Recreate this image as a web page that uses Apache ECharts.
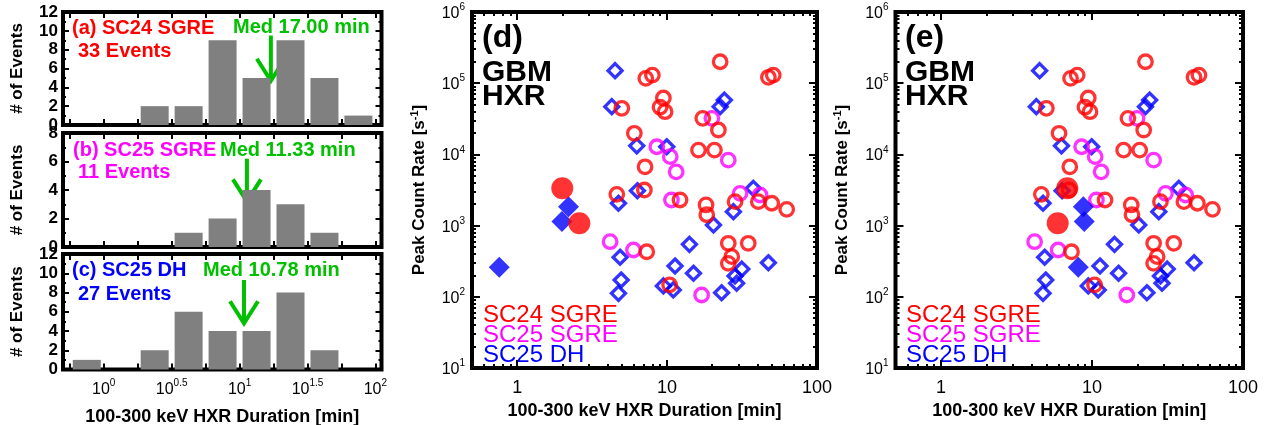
<!DOCTYPE html>
<html>
<head>
<meta charset="utf-8">
<script src="https://cdn.jsdelivr.net/npm/echarts@6/dist/echarts.min.js"></script>
<style>
  html, body { margin: 0; padding: 0; background: #fff; }
  #chart { width: 1272px; height: 425px; }
</style>
</head>
<body>
<div id="chart"></div>
<script>
const FONT = '"Liberation Sans", Arial, Helvetica, sans-serif';
const RED = '#ff0000', MAGENTA = '#ff00ff', BLUE = '#0000ff', GREEN = '#00c000', GRAY = '#808080';

// histograms: lower bin edge in log10(min), 0.25 dex bins
const binLo = [-0.25, 0, 0.25, 0.5, 0.75, 1, 1.25, 1.5, 1.75];
const binStep = 0.25;
const countsSC24 = [0, 0, 2, 2, 9, 5, 9, 5, 1];
const countsSC25 = [0, 0, 0, 1, 2, 4, 3, 1, 0];
const countsDH = [1, 0, 2, 6, 4, 4, 8, 2, 0];
const histYMax = [12, 8, 12];
const medians = [17.00, 11.33, 10.78];
const arrowTop = [9.5, 6.2, 9.3]; // arrow shaft top (counts)
const arrowTip = [4.7, 3.2, 4.8]; // arrow tip (counts)
const histTickVals = [-0.25, 0, 0.25, 0.5, 0.75, 1, 1.25, 1.5, 1.75, 2];
const histLabelVals = [0, 0.5, 1, 1.5, 2];

// scatter: open symbols (same in d and e)
const sc24Dur = [22.6, 7.21, 7.98, 47.4, 51.1, 4.99, 9.45, 8.98, 9.7, 6.05, 7.13, 17.3, 22.0, 16.2, 20.7,
  4.62, 7.06, 12.2, 18.2, 18.4, 28.4, 40.6, 49.9, 62.8, 7.32, 10.4, 25.6, 34.8, 27.0, 25.6];
const sc24Peak = [2.0e5, 1.17e5, 1.30e5, 1.21e5, 1.30e5, 4.44e4, 6.2e4, 4.6e4, 3.98e4, 1.98e4, 6.7e3, 3.21e4, 2.2e4, 1.15e4, 1.15e4,
  2.75e3, 3.16e3, 2.29e3, 1.95e3, 1.42e3, 2.17e3, 2.17e3, 2.06e3, 1.69e3, 429, 147, 564, 564, 366, 295];
const sc25Dur = [19.9, 8.54, 10.5, 11.5, 25.6, 10.7, 30.7, 41.7, 4.17, 5.97, 17.0];
const sc25Peak = [3.21e4, 1.28e4, 9.3e3, 5.7e3, 8.3e3, 2.29e3, 2.84e3, 2.69e3, 594, 454, 106];
const dhDur = [4.50, 4.28, 6.28, 9.95, 6.34, 4.74, 22.6, 24.1, 37.6, 27.7, 20.4, 4.86, 4.94, 4.74, 9.45, 11.0,
  11.3, 14.1, 15.0, 23.1, 28.4, 31.5, 29.1, 47.4];
const dhPeak = [1.5e5, 4.68e4, 1.32e4, 1.28e4, 3.09e3, 2.06e3, 4.68e4, 5.8e4, 3.34e3, 1.57e3, 1.02e3, 359, 172, 112, 142, 125,
  271, 546, 214, 114, 196, 245, 155, 301];
// filled symbols (differ between d and e)
const sgreFilledPeak = [3340, 1080];
const sgreFilledDurD = [2.0, 2.6];
const sgreFilledDurE = [6.86, 5.93];
const dhFilledPeak = [1840, 1140, 260];
const dhFilledDurD = [2.2, 1.99, 0.76];
const dhFilledDurE = [8.76, 8.89, 8.11];

const xMinorVals = [0.6, 0.7, 0.8, 0.9, 2, 3, 4, 5, 6, 7, 8, 9, 20, 30, 40, 50, 60, 70, 80, 90];
const yMinorVals = [];
[10, 100, 1000, 10000, 100000].forEach(d => { for (let k = 2; k <= 9; k++) yMinorVals.push(k * d); });

const chart = echarts.init(document.getElementById('chart'));

const supRich = (size, sup, raise) => ({
  b: { fontFamily: FONT, fontSize: size, color: '#000', verticalAlign: 'bottom' },
  s: { fontFamily: FONT, fontSize: sup, color: '#000', verticalAlign: 'bottom', padding: [0, 0, raise, 0] }
});
const tick = (len, vals) => {
  const t = { show: true, inside: true, length: len, lineStyle: { color: '#000', width: 2 } };
  if (vals) t.customValues = vals;
  return t;
};
const noLine = { show: false, onZero: false };

const grids = [], xAxes = [], yAxes = [], series = [];

// ---------- histograms ----------
const histLayout = [{ top: 12, height: 113 }, { top: 133, height: 114 }, { top: 254, height: 115.5 }];
const histCounts = [countsSC24, countsSC25, countsDH];
histLayout.forEach((g, i) => {
  grids.push({ left: 63, top: g.top, width: 318.5, height: g.height, show: true,
    borderColor: '#000', borderWidth: 4, backgroundColor: 'transparent', outerBoundsMode: 'none' });
  const xi = xAxes.length, yi = yAxes.length;
  ['bottom', 'top'].forEach((pos, k) => {
    const main = k === 0 && i === 2;
    xAxes.push({
      type: 'value', gridIndex: i, position: pos, min: -0.3, max: 2.045,
      axisLine: noLine, splitLine: { show: false },
      axisTick: tick(6, histTickVals),
      axisLabel: main ? {
        show: true, customValues: histLabelVals, margin: 9, fontSize: 16, fontFamily: FONT, color: '#000',
        formatter: v => '{b|10}{s|' + v + '}', rich: supRich(16, 10, 9)
      } : { show: false },
      name: main ? '100-300 keV HXR Duration [min]' : '',
      nameLocation: 'middle', nameGap: 39,
      nameTextStyle: { fontFamily: FONT, fontSize: 18, fontWeight: 'bold', color: '#000' }
    });
  });
  ['left', 'right'].forEach((pos, k) => {
    yAxes.push({
      type: 'value', gridIndex: i, position: pos, min: 0, max: histYMax[i], interval: 2,
      axisLine: noLine, splitLine: { show: false },
      axisTick: tick(6), minorTick: { show: true, splitNumber: 2, length: 3, lineStyle: { color: '#000', width: 2 } },
      axisLabel: k === 0 ? { show: true, margin: 5, fontFamily: FONT, fontSize: 17, fontWeight: 'bold', color: '#000' } : { show: false },
      name: k === 0 ? '# of Events' : '', nameLocation: 'middle', nameGap: 37,
      nameTextStyle: { fontFamily: FONT, fontSize: 17, fontWeight: 'bold', color: '#000' }
    });
  });
  series.push({
    type: 'bar', xAxisIndex: xi, yAxisIndex: yi, barWidth: 28,
    itemStyle: { color: GRAY },
    data: binLo.map((lo, k) => [lo + binStep / 2, histCounts[i][k]])
  });
  series.push({
    type: 'custom', xAxisIndex: xi, yAxisIndex: yi, encode: { x: 0, y: [1, 2] },
    data: [[Math.log10(medians[i]), arrowTop[i], arrowTip[i]]],
    renderItem: (params, api) => {
      const top = api.coord([api.value(0), api.value(1)]);
      const tip = api.coord([api.value(0), api.value(2)]);
      const st = { stroke: GREEN, lineWidth: 4, fill: null, lineCap: 'butt', lineJoin: 'miter' };
      return { type: 'group', children: [
        { type: 'line', shape: { x1: top[0], y1: top[1], x2: tip[0], y2: tip[1] - 2 }, style: st },
        { type: 'polyline', shape: { points: [[tip[0] - 14, tip[1] - 22], [tip[0], tip[1]], [tip[0] + 14, tip[1] - 22]] }, style: st }
      ] };
    }
  });
});

// ---------- scatter panels ----------
const scLayout = [{ left: 472, width: 345 }, { left: 895.5, width: 347.5 }];
const filledDur = [[sgreFilledDurD, dhFilledDurD], [sgreFilledDurE, dhFilledDurE]];
const lg = Math.log10;
scLayout.forEach((g, p) => {
  const gi = grids.length;
  grids.push({ left: g.left, top: 12, width: g.width, height: 356, show: true,
    borderColor: '#000', borderWidth: 4, backgroundColor: 'transparent', outerBoundsMode: 'none' });
  const xi = xAxes.length, yi = yAxes.length;
  xAxes.push({
    type: 'log', logBase: 10, gridIndex: gi, position: 'bottom', min: 0.5, max: 100,
    axisLine: noLine, splitLine: { show: false }, axisTick: tick(8),
    axisLabel: { show: true, margin: 11, fontFamily: FONT, fontSize: 18, color: '#000',
      formatter: v => { const e = Math.log10(v); return Math.abs(e - Math.round(e)) < 1e-6 ? String(Math.round(Math.pow(10, Math.round(e)))) : ''; } },
    name: '100-300 keV HXR Duration [min]', nameLocation: 'middle', nameGap: 33,
    nameTextStyle: { fontFamily: FONT, fontSize: 18, fontWeight: 'bold', color: '#000' }
  });
  [['bottom', 4, xMinorVals.map(lg)], ['top', 8, [0, 1, 2]], ['top', 4, xMinorVals.map(lg)]].forEach(([pos, len, vals]) => {
    xAxes.push({ type: 'value', gridIndex: gi, position: pos, min: lg(0.5), max: 2,
      axisLine: noLine, splitLine: { show: false }, axisTick: tick(len, vals), axisLabel: { show: false } });
  });
  yAxes.push({
    type: 'log', logBase: 10, gridIndex: gi, position: 'left', min: 10, max: 1e6,
    axisLine: noLine, splitLine: { show: false }, axisTick: tick(8),
    axisLabel: { show: true, margin: 7, fontSize: 16, fontFamily: FONT, color: '#000',
      formatter: v => '{b|10}{s|' + Math.round(Math.log10(v)) + '}', rich: supRich(16, 10, 9) },
    name: 'Peak Count Rate [s{s|-1}]', nameLocation: 'middle', nameGap: 43,
    nameTextStyle: { fontFamily: FONT, fontSize: 17, fontWeight: 'bold', color: '#000',
      rich: { s: { fontFamily: FONT, fontSize: 11, fontWeight: 'bold', color: '#000', verticalAlign: 'bottom', padding: [0, 0, 9, 0] } } }
  });
  [['left', 4, yMinorVals.map(lg)], ['right', 8, [1, 2, 3, 4, 5, 6]], ['right', 4, yMinorVals.map(lg)]].forEach(([pos, len, vals]) => {
    yAxes.push({ type: 'value', gridIndex: gi, position: pos, min: 1, max: 6,
      axisLine: noLine, splitLine: { show: false }, axisTick: tick(len, vals), axisLabel: { show: false } });
  });
  const sc = (dur, peak, symbol, size, open, color) => ({
    type: 'scatter', xAxisIndex: xi, yAxisIndex: yi, symbol, symbolSize: size,
    itemStyle: open ? { color: 'rgba(0,0,0,0)', borderColor: color, borderWidth: 3.3 } : { color: color },
    data: dur.map((d, k) => [d, peak[k]])
  });
  series.push(sc(dhDur, dhPeak, 'diamond', 14, true, BLUE));
  series.push(sc(sc25Dur, sc25Peak, 'circle', 13.5, true, MAGENTA));
  series.push(sc(sc24Dur, sc24Peak, 'circle', 13.5, true, RED));
  series.push(sc(filledDur[p][1], dhFilledPeak, 'diamond', 21, false, BLUE));
  series.push(sc(filledDur[p][0], sgreFilledPeak, 'circle', 22, false, RED));
});

// ---------- annotation texts ----------
const txt = (text, x, y, fill, font) => ({ type: 'text', x, y, silent: true,
  style: { text, fill, font: font + ' ' + FONT, verticalAlign: 'middle', align: 'left' } });
const graphic = [
  txt('(a) SC24 SGRE', 72, 28, RED, 'bold 20px'),
  txt('33 Events', 78, 51, RED, 'bold 20px'),
  txt('Med 17.00 min', 233, 27, GREEN, 'bold 20px'),
  txt('(b) SC25 SGRE', 73, 150, MAGENTA, 'bold 20px'),
  txt('11 Events', 78, 172, MAGENTA, 'bold 20px'),
  txt('Med 11.33 min', 220, 150, GREEN, 'bold 20px'),
  txt('(c) SC25 DH', 72, 270, BLUE, 'bold 20px'),
  txt('27 Events', 78, 294, BLUE, 'bold 20px'),
  txt('Med 10.78 min', 203, 270, GREEN, 'bold 20px')
];
[['(d)', 482], ['(e)', 905]].forEach(([lab, x0]) => {
  graphic.push(txt(lab, x0, 38, '#000', 'bold 32px'));
  graphic.push(txt('GBM', x0, 73, '#000', 'bold 30px'));
  graphic.push(txt('HXR', x0, 97, '#000', 'bold 30px'));
  graphic.push(txt('SC24 SGRE', x0 + 1, 315, RED, '24px'));
  graphic.push(txt('SC25 SGRE', x0 + 1, 335.5, MAGENTA, '24px'));
  graphic.push(txt('SC25 DH', x0 + 1, 355.5, BLUE, '24px'));
});

chart.setOption({
  animation: false,
  backgroundColor: '#fff',
  textStyle: { fontFamily: FONT },
  grid: grids,
  xAxis: xAxes,
  yAxis: yAxes,
  series: series,
  graphic: graphic
});
</script>
</body>
</html>
